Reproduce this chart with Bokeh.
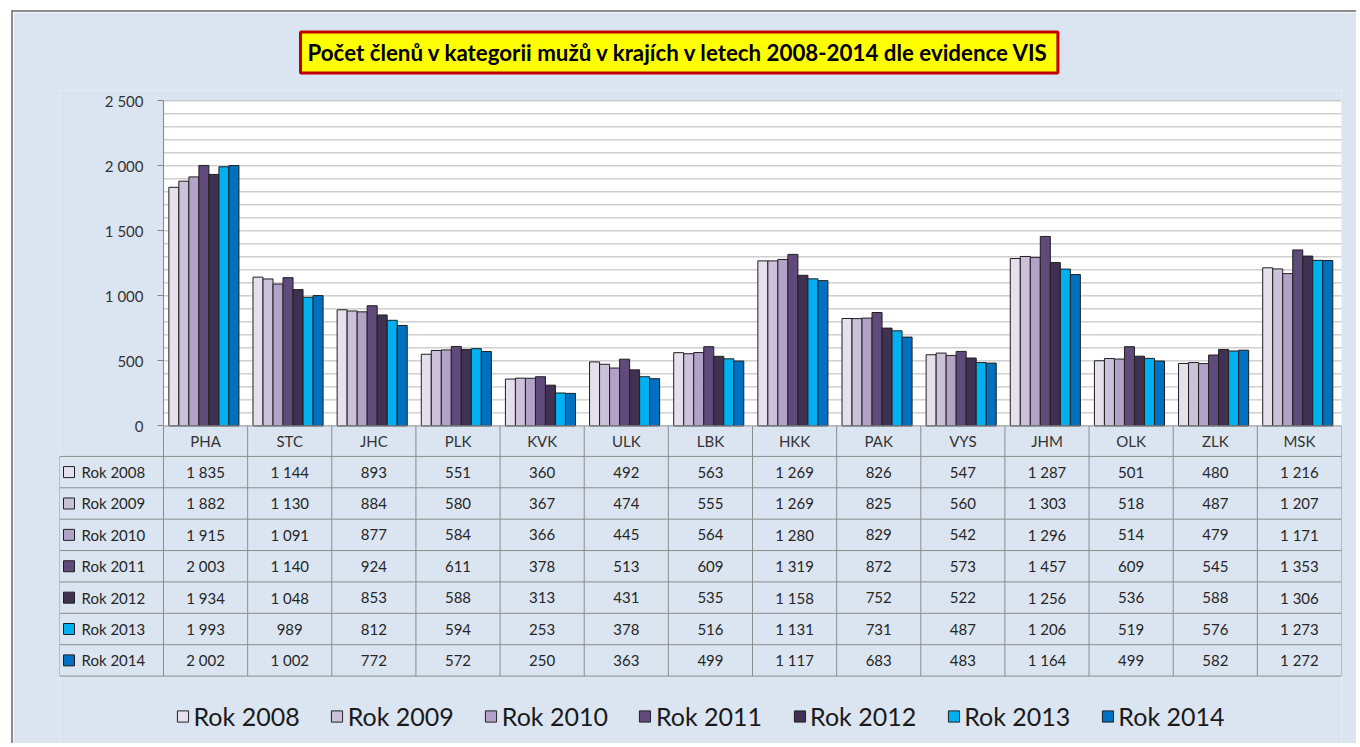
from bokeh.plotting import figure
from bokeh.models import (ColumnDataSource, Range1d, FixedTicker, Title, Legend, LegendItem)
from bokeh.transform import dodge
from bokeh.core.properties import value
from bokeh.embed import file_html
from bokeh.resources import INLINE

# ---------------- data ----------------
categories = ["PHA", "STC", "JHC", "PLK", "KVK", "ULK", "LBK", "HKK", "PAK", "VYS", "JHM", "OLK", "ZLK", "MSK"]
years = ["Rok 2008", "Rok 2009", "Rok 2010", "Rok 2011", "Rok 2012", "Rok 2013", "Rok 2014"]
rok_2008 = [1835, 1144, 893, 551, 360, 492, 563, 1269, 826, 547, 1287, 501, 480, 1216]
rok_2009 = [1882, 1130, 884, 580, 367, 474, 555, 1269, 825, 560, 1303, 518, 487, 1207]
rok_2010 = [1915, 1091, 877, 584, 366, 445, 564, 1280, 829, 542, 1296, 514, 479, 1171]
rok_2011 = [2003, 1140, 924, 611, 378, 513, 609, 1319, 872, 573, 1457, 609, 545, 1353]
rok_2012 = [1934, 1048, 853, 588, 313, 431, 535, 1158, 752, 522, 1256, 536, 588, 1306]
rok_2013 = [1993, 989, 812, 594, 253, 378, 516, 1131, 731, 487, 1206, 519, 576, 1273]
rok_2014 = [2002, 1002, 772, 572, 250, 363, 499, 1117, 683, 483, 1164, 499, 582, 1272]
series = [rok_2008, rok_2009, rok_2010, rok_2011, rok_2012, rok_2013, rok_2014]
y_ticks = [0, 500, 1000, 1500, 2000, 2500]
y_max = 2500
grid_step = 100
title_text = "Počet členů v kategorii mužů v krajích v letech 2008-2014 dle evidence VIS"

colors = ["#e6e0ec", "#ccc1da", "#b3a2c7", "#604a7b", "#403152", "#00b0f0", "#0070c0"]
BG = "#dbe5f1"
FONT = "Lato"
GRID = "#8c8c8c"

def fmt(v):
    return f"{v:,}".replace(",", " ")

n = len(categories)
W, H = 1345, 733
TOP = 68
HEAD_PX = 10.5                       # empty strip above the 2 500 line
CAT_PX = 84.14                       # width of a category cell in pixels
LEFT = -104 / CAT_PX                 # left label column of the data table
PX_PER_UNIT = 330 / y_max            # bar area: 330 px high
HEADER_U = 31 / PX_PER_UNIT
ROW_U = 31.86 / PX_PER_UNIT
FRAME_H = H - TOP
Y_TOP = y_max + HEAD_PX / PX_PER_UNIT
Y_BOTTOM = -(FRAME_H - HEAD_PX - 330) / PX_PER_UNIT

p = figure(width=W, height=H, x_range=Range1d(LEFT, n), y_range=Range1d(Y_BOTTOM, Y_TOP),
           output_backend="svg", toolbar_location=None, x_axis_location=None,
           min_border_left=46, min_border_right=17, min_border_top=TOP, min_border_bottom=0)
p.margin = (10, 0, 0, 11)
p.styles = {"border-top": "2px solid #8c8c8c", "border-left": "2px solid #8c8c8c"}
p.border_fill_color = BG
p.background_fill_color = BG
p.outline_line_color = None
p.grid.visible = False

# white plot area + grid lines
p.quad(left=[0], right=[n], bottom=[0], top=[y_max], fill_color="white", line_color=None)
gy = [float(v) for v in range(grid_step, y_max + 1, grid_step)]
p.segment(x0=[0] * len(gy), y0=gy, x1=[n] * len(gy), y1=gy, line_color="#b8b8b8", line_width=1)

# bars
data = {"xc": [i + 0.5 for i in range(n)], "cat": categories}
for j, s in enumerate(series):
    data[f"y{j}"] = s
src = ColumnDataSource(data)
bw = 0.119
for j in range(7):
    p.vbar(x=dodge("xc", (j - 3) * bw - 0.02), top=f"y{j}", bottom=0, width=bw,
           source=src, fill_color=colors[j], line_color="#1f1f1f", line_width=1)

# y axis at x = 0
ax = p.yaxis[0]
ax.fixed_location = 0
ax.bounds = (0, y_max)
ax.ticker = FixedTicker(ticks=y_ticks)
ax.major_label_overrides = {t: fmt(t) for t in y_ticks}
ax.major_label_text_font = FONT
ax.major_label_text_font_size = "15px"
ax.major_label_text_color = "#333333"
ax.major_tick_in = 0
ax.major_tick_out = 6
ax.major_label_standoff = 14
ax.axis_line_color = "#868686"
ax.major_tick_line_color = "#868686"
ax.minor_tick_line_color = None

# title
t = Title(text=title_text, align="left", offset=241, standoff=35,
          text_font=FONT, text_font_style="bold", text_font_size="22.3px", text_color="#000000",
          background_fill_color="#ffff00", border_line_color="#c00000", border_line_width=3,
          padding=7)
p.add_layout(t, "above")

# ---------------- data table ----------------
rows_y = [0.0] + [-(HEADER_U + k * ROW_U) for k in range(8)]
TABLE_BOTTOM = rows_y[-1]
row_mid = [-(HEADER_U + (j + 0.5) * ROW_U) for j in range(7)]
hx0 = [0.0] + [LEFT] * 8
hx1 = [float(n)] * 9
p.segment(x0=hx0, y0=rows_y, x1=hx1, y1=rows_y, line_color=GRID, line_width=1)
vx = [float(v) for v in range(n + 1)] + [LEFT]
vy0 = [0.0] * (n + 1) + [rows_y[1]]
vy1 = [TABLE_BOTTOM] * (n + 2)
p.segment(x0=vx, y0=vy0, x1=vx, y1=vy1, line_color=GRID, line_width=1)

p.text(x=[i + 0.5 for i in range(n)], y=[-0.5 * HEADER_U] * n, text=categories,
       text_font=value(FONT), text_font_size="15px", text_color="#333333",
       text_align="center", text_baseline="middle")
xs, ys, ts = [], [], []
for j, s in enumerate(series):
    for i, v in enumerate(s):
        xs.append(i + 0.5)
        ys.append(row_mid[j])
        ts.append(fmt(v))
p.text(x=xs, y=ys, text=ts, text_font=value(FONT), text_font_size="15px",
       text_color="#262626", text_align="center", text_baseline="middle")

items = []
for j in range(7):
    r = p.rect(x=[LEFT + 9.5 / CAT_PX], y=[row_mid[j]], width=11, height=11,
               width_units="screen", height_units="screen",
               fill_color=colors[j], line_color="#1f1f1f", line_width=1)
    items.append(LegendItem(label=years[j], renderers=[r]))
p.text(x=[LEFT + 22 / CAT_PX] * 7, y=row_mid, text=years,
       text_font=value(FONT), text_font_size="15px", text_color="#262626",
       text_align="left", text_baseline="middle")

leg = Legend(items=items, orientation="horizontal", location="bottom",
             label_text_font=FONT, label_text_font_size="25px", label_text_color="#1a1a1a",
             glyph_width=14, glyph_height=14, label_standoff=4, spacing=30,
             background_fill_alpha=0, border_line_color=None, padding=4, margin=14)
p.add_layout(leg)

open("out.html", "w").write(file_html(p, INLINE))
